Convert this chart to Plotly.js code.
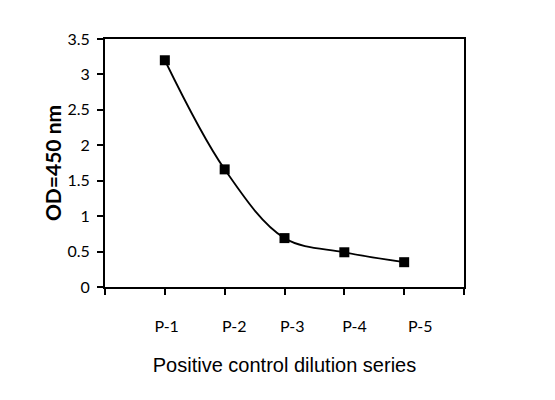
<!DOCTYPE html>
<html>
<head>
<meta charset="utf-8">
<script src="https://cdn.plot.ly/plotly-3.0.1.min.js"></script>
<style>html,body{margin:0;padding:0;background:#fff}#chart{width:555px;height:400px}</style>
</head>
<body>
<div id="chart"></div>
<script>
// positive control dilution series, OD at 450 nm
const dilutions = ["P-1", "P-2", "P-3", "P-4", "P-5"];
const od450 = [3.20, 1.66, 0.69, 0.49, 0.35];
const yTicks = [0, 0.5, 1, 1.5, 2, 2.5, 3, 3.5];

// the labels in the original sit a little right of their ticks
const labelShift = [0.03, 0.16, 0.13, 0.17, 0.27];

const idx = dilutions.map((_, i) => i);
const tickFont = {family: "Lato, 'Open Sans', sans-serif", size: 16, color: "#000"};

const traces = [
  {
    x: idx, y: od450, type: "scatter", mode: "lines+markers",
    line: {shape: "spline", smoothing: 1, color: "#000", width: 1.8},
    marker: {symbol: "square", size: 10, color: "#000"},
    hoverinfo: "skip", showlegend: false
  },
  // carries the category labels on an overlaid axis
  {
    x: idx.map((i) => i + labelShift[i]), y: idx.map(() => null),
    xaxis: "x2", type: "scatter", mode: "lines", hoverinfo: "skip", showlegend: false
  }
];

const layout = {
  width: 555, height: 400,
  margin: {l: 105, r: 91, t: 39, b: 113},
  paper_bgcolor: "white", plot_bgcolor: "white",
  showlegend: false,
  xaxis: {
    range: [-1, 5], tickvals: [-1, 0, 1, 2, 3, 4, 5], showticklabels: false,
    ticks: "outside", ticklen: 6, tickwidth: 2, tickcolor: "#000",
    showline: true, linewidth: 2, linecolor: "#000", mirror: true,
    showgrid: false, zeroline: false, fixedrange: true,
    title: {text: "Positive control dilution series", standoff: 64,
            font: {family: "'Liberation Sans', Arial, sans-serif", size: 20, color: "#000"}}
  },
  xaxis2: {
    overlaying: "x", anchor: "y", side: "bottom",
    range: [-1, 5], tickvals: idx.map((i) => i + labelShift[i]), ticktext: dilutions,
    ticks: "", showline: false, showgrid: false, zeroline: false,
    ticklabelstandoff: 28, tickfont: tickFont, fixedrange: true
  },
  yaxis: {
    range: [0, 3.5], tickvals: yTicks,
    ticks: "outside", ticklen: 6, tickwidth: 2, tickcolor: "#000",
    showline: true, linewidth: 2, linecolor: "#000", mirror: true,
    showgrid: false, zeroline: false, fixedrange: true, tickfont: tickFont,
    ticklabelstandoff: 4,
    title: {text: "<b>OD=450 nm</b>", standoff: 0,
            font: {family: "Lato, 'Open Sans', sans-serif", size: 21, color: "#000"}}
  }
};

Plotly.newPlot("chart", traces, layout, {displayModeBar: false, staticPlot: true});
</script>
</body>
</html>
